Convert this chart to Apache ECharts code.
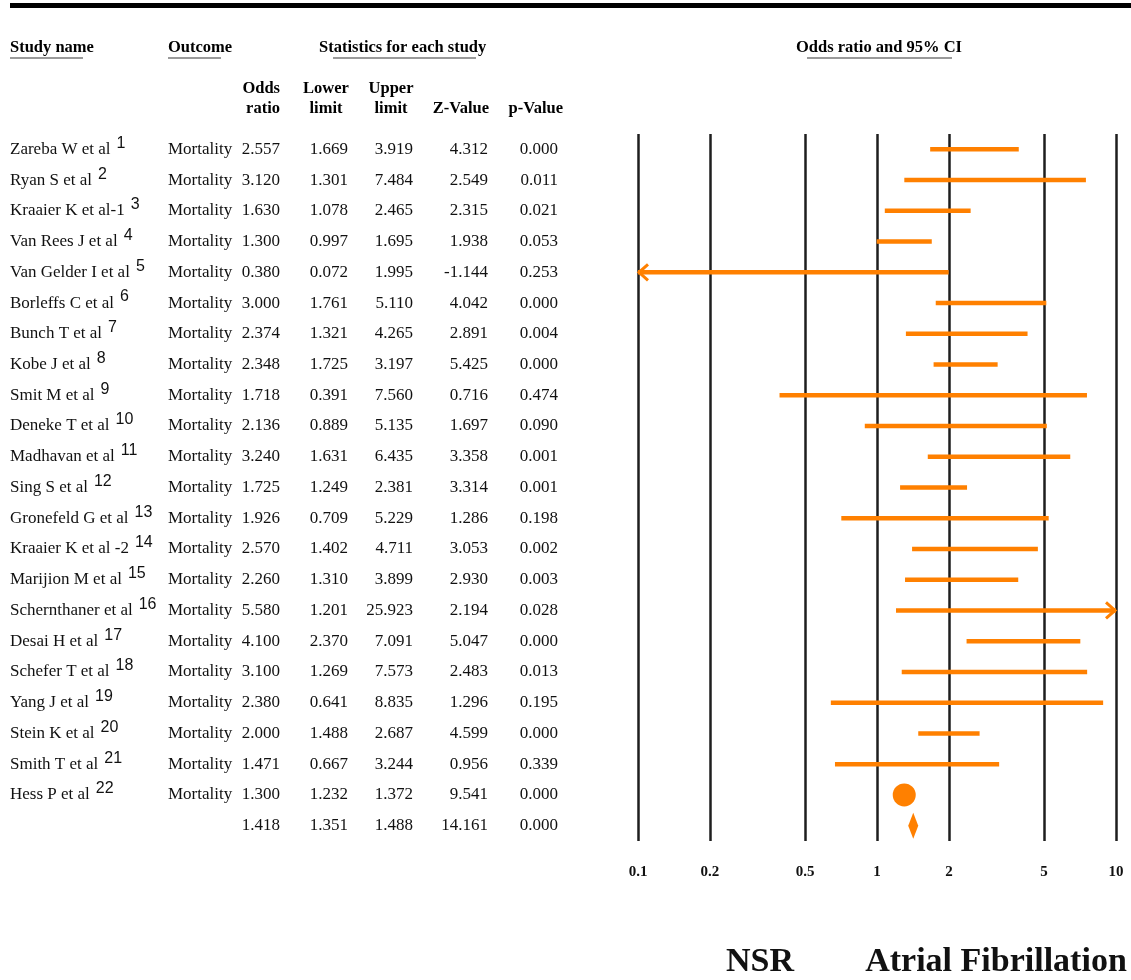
<!DOCTYPE html>
<html>
<head>
<meta charset="utf-8">
<script src="https://cdn.jsdelivr.net/npm/echarts@6/dist/echarts.min.js"></script>
<style>
  html, body { margin: 0; padding: 0; background: #fff; }
  #chart { width: 1131px; height: 980px; }
</style>
</head>
<body>
<div id="chart"></div>
<script>
// Data
const studies = [
  'Zareba W et al', 'Ryan S et al', 'Kraaier K et al-1', 'Van Rees J et al',
  'Van Gelder I et al', 'Borleffs C et al', 'Bunch T et al', 'Kobe J et al',
  'Smit M et al', 'Deneke T et al', 'Madhavan et al', 'Sing S et al',
  'Gronefeld G et al', 'Kraaier K et al -2', 'Marijion M et al', 'Schernthaner et al',
  'Desai H et al', 'Schefer T et al', 'Yang J et al', 'Stein K et al',
  'Smith T et al', 'Hess P et al', ''
];
const refs = ['1', '2', '3', '4', '5', '6', '7', '8', '9', '10', '11', '12', '13', '14',
  '15', '16', '17', '18', '19', '20', '21', '22', ''];
const outcomes = studies.map((s) => (s ? 'Mortality' : ''));

const oddsRatio = [2.557, 3.120, 1.630, 1.300, 0.380, 3.000, 2.374, 2.348, 1.718, 2.136, 3.240,
  1.725, 1.926, 2.570, 2.260, 5.580, 4.100, 3.100, 2.380, 2.000, 1.471, 1.300, 1.418];
const lowerLimit = [1.669, 1.301, 1.078, 0.997, 0.072, 1.761, 1.321, 1.725, 0.391, 0.889, 1.631,
  1.249, 0.709, 1.402, 1.310, 1.201, 2.370, 1.269, 0.641, 1.488, 0.667, 1.232, 1.351];
const upperLimit = [3.919, 7.484, 2.465, 1.695, 1.995, 5.110, 4.265, 3.197, 7.560, 5.135, 6.435,
  2.381, 5.229, 4.711, 3.899, 25.923, 7.091, 7.573, 8.835, 2.687, 3.244, 1.372, 1.488];
const zValue = [4.312, 2.549, 2.315, 1.938, -1.144, 4.042, 2.891, 5.425, 0.716, 1.697, 3.358,
  3.314, 1.286, 3.053, 2.930, 2.194, 5.047, 2.483, 1.296, 4.599, 0.956, 9.541, 14.161];
const pValue = [0.000, 0.011, 0.021, 0.053, 0.253, 0.000, 0.004, 0.000, 0.474, 0.090, 0.001,
  0.001, 0.198, 0.002, 0.003, 0.028, 0.000, 0.013, 0.195, 0.000, 0.339, 0.000, 0.000];

const axisTicks = [0.1, 0.2, 0.5, 1, 2, 5, 10];
const summaryRow = studies.length - 1;
const bigMarkerRow = 21; // Hess P et al carries most of the weight

const ORANGE = '#ff8000';
const SERIF = '"Liberation Serif", "Times New Roman", serif';
const xMin = 0.1, xMax = 10;

var chartDom = document.getElementById('chart');
var myChart = echarts.init(chartDom, null, { renderer: 'canvas' });

const measure = document.createElement('canvas').getContext('2d');
function textWidth(str, font) {
  measure.font = font;
  return measure.measureText(str).width;
}

function txt(text, x, y, font, align) {
  return {
    type: 'text',
    style: {
      text: text, x: x, y: y, font: font, fill: '#111',
      align: align || 'left', verticalAlign: 'middle',
      textAlign: align || 'left', textVerticalAlign: 'middle'
    }
  };
}

// table column anchors
const bodyFont = '17px ' + SERIF;
const supFont = '16px "Liberation Sans", Arial, sans-serif';
const cols = {
  name: 10, outcome: 168, or: 280, lo: 348, hi: 413, z: 488, p: 558
};

function renderTable(params, api) {
  const i = params.dataIndex;
  const y = api.coord([1, i])[1];
  const kids = [];
  if (studies[i]) {
    kids.push(txt(studies[i], cols.name, y, bodyFont));
    const w = textWidth(studies[i], bodyFont);
    kids.push(txt(refs[i], cols.name + w + 6, y - 6, supFont));
    kids.push(txt(outcomes[i], cols.outcome, y, bodyFont));
  }
  kids.push(txt(oddsRatio[i].toFixed(3), cols.or, y, bodyFont, 'right'));
  kids.push(txt(lowerLimit[i].toFixed(3), cols.lo, y, bodyFont, 'right'));
  kids.push(txt(upperLimit[i].toFixed(3), cols.hi, y, bodyFont, 'right'));
  kids.push(txt(zValue[i].toFixed(3), cols.z, y, bodyFont, 'right'));
  kids.push(txt(pValue[i].toFixed(3), cols.p, y, bodyFont, 'right'));
  return { type: 'group', children: kids };
}

function renderForest(params, api) {
  const lo = api.value(0), hi = api.value(1), or = api.value(2), row = api.value(3);
  const y = api.coord([1, row])[1];
  const xl = api.coord([Math.max(lo, xMin), row])[0];
  const xh = api.coord([Math.min(hi, xMax), row])[0];
  const kids = [];
  const stroke = { stroke: ORANGE, lineWidth: 4.5, fill: 'none' };
  if (row === summaryRow) {
    const xm = api.coord([or, row])[0];
    kids.push({
      type: 'polygon',
      shape: { points: [[xl, y], [xm, y - 13], [xh, y], [xm, y + 13]] },
      style: { fill: ORANGE }
    });
    return { type: 'group', children: kids };
  }
  if (row === bigMarkerRow) {
    const xm = api.coord([or, row])[0];
    kids.push({ type: 'circle', shape: { cx: xm, cy: y, r: 11.5 }, style: { fill: ORANGE } });
    return { type: 'group', children: kids };
  }
  kids.push({ type: 'line', shape: { x1: xl, y1: y, x2: xh, y2: y }, style: stroke });
  if (lo < xMin) {
    kids.push({
      type: 'polyline',
      shape: { points: [[xl + 10, y - 8], [xl + 1, y], [xl + 10, y + 8]] },
      style: { stroke: ORANGE, lineWidth: 3, fill: 'none' }
    });
  }
  if (hi > xMax) {
    kids.push({
      type: 'polyline',
      shape: { points: [[xh - 10, y - 8], [xh - 1, y], [xh - 10, y + 8]] },
      style: { stroke: ORANGE, lineWidth: 3, fill: 'none' }
    });
  }
  return { type: 'group', children: kids };
}

const hdrFont = 'bold 16.5px ' + SERIF;
function hdr(text, x, y, align) {
  const t = txt(text, x, y, hdrFont, align);
  t.style.fill = '#000';
  return t;
}
function uline(x1, x2, y) {
  return { type: 'line', shape: { x1: x1, y1: y, x2: x2, y2: y }, style: { stroke: '#9a9a9a', lineWidth: 2 } };
}

var option = {
  animation: false,
  backgroundColor: '#fff',
  grid: { left: 638, right: 15, top: 134, height: 707 },
  xAxis: {
    type: 'log',
    logBase: 10,
    min: xMin,
    max: xMax,
    axisLine: { show: false },
    axisTick: { show: false },
    splitLine: { show: false },
    axisLabel: {
      customValues: axisTicks,
      formatter: (v) => String(+v.toPrecision(3)),
      fontFamily: SERIF,
      fontWeight: 'bold',
      fontSize: 15,
      color: '#111',
      margin: 24
    }
  },
  yAxis: {
    type: 'category',
    inverse: true,
    data: studies.map((s, i) => String(i)),
    show: false
  },
  graphic: [
    { type: 'rect', shape: { x: 10, y: 3, width: 1121, height: 5 }, style: { fill: '#000' } },
    hdr('Study name', 10, 48),
    hdr('Outcome', 168, 48),
    hdr('Statistics for each study', 319, 48),
    hdr('Odds ratio and 95% CI', 879, 48, 'center'),
    uline(10, 83, 58), uline(168, 221, 58), uline(333, 476, 58), uline(807, 952, 58),
    hdr('Odds', 280, 89, 'right'), hdr('ratio', 280, 109, 'right'),
    hdr('Lower', 326, 89, 'center'), hdr('limit', 326, 109, 'center'),
    hdr('Upper', 391, 89, 'center'), hdr('limit', 391, 109, 'center'),
    hdr('Z-Value', 489, 109, 'right'), hdr('p-Value', 563, 109, 'right'),
    txt('NSR', 760, 962, 'bold 34px ' + SERIF, 'center'),
    txt('Atrial Fibrillation', 996, 962, 'bold 34px ' + SERIF, 'center')
  ],
  series: [
    {
      type: 'scatter',
      data: [],
      silent: true,
      z: 1,
      markLine: {
        silent: true,
        symbol: 'none',
        label: { show: false },
        lineStyle: { color: '#1e1e1e', width: 2.5, type: 'solid' },
        data: axisTicks.map((v) => ({ xAxis: v }))
      }
    },
    {
      type: 'custom',
      name: 'forest',
      z: 5,
      renderItem: renderForest,
      encode: { x: [0, 1, 2], y: 3 },
      data: studies.map((s, i) => [lowerLimit[i], upperLimit[i], oddsRatio[i], i])
    },
    {
      type: 'custom',
      name: 'table',
      z: 5,
      renderItem: renderTable,
      encode: { x: 0, y: 1 },
      data: studies.map((s, i) => [1, i])
    }
  ]
};

option && myChart.setOption(option);
</script>
</body>
</html>
